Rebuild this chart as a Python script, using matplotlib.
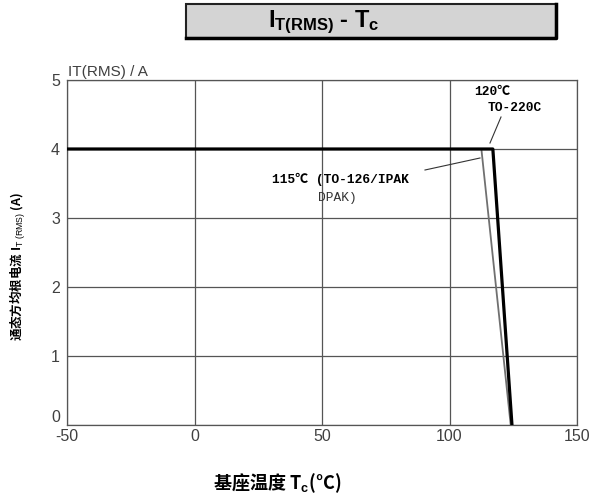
import matplotlib
matplotlib.use("Agg")
import matplotlib.pyplot as plt
from matplotlib.patches import Rectangle
from matplotlib.lines import Line2D

plt.rcParams['font.family'] = ['Liberation Sans', 'Noto Sans CJK SC', 'DejaVu Sans']
plt.rcParams['mathtext.fontset'] = 'custom'
plt.rcParams['mathtext.rm'] = 'Liberation Sans'
plt.rcParams['mathtext.bf'] = 'Liberation Sans:bold'
plt.rcParams['mathtext.it'] = 'Liberation Sans:italic'

# Data
to220_tc = [-50, 117, 124.5]
to220_it = [4, 4, 0]
to126_tc = [-50, 112.5, 124]
to126_it = [4, 4, 0]
x_ticks = [-50, 0, 50, 100, 150]
y_ticks = [0, 1, 2, 3, 4, 5]

fig = plt.figure(figsize=(5.98, 5.00), dpi=100)
W, H = 598, 500
ax = fig.add_axes([67 / W, 1 - 425 / H, (577 - 67) / W, (425 - 80) / H])

ax.plot(to126_tc, to126_it, color='#707070', lw=1.3, zorder=3)
ax.plot(to220_tc, to220_it, color='black', lw=2.3, zorder=4)

ax.set_xlim(-50, 150)
ax.set_ylim(0, 5)
ax.set_xticks(x_ticks)
ax.set_yticks(y_ticks)
ax.grid(True, color='#555555', lw=0.9)
ax.set_axisbelow(True)
for s in ax.spines.values():
    s.set_color('#555555')
    s.set_linewidth(0.9)
ax.tick_params(length=0, labelsize=11.5, colors='#404040')
ax.tick_params(axis='y', pad=5)
ax.tick_params(axis='x', pad=3)
ax.set_xticklabels([str(v) for v in x_ticks])
ax.get_yticklabels()[0].set_va('bottom')

ax.text(0.002, 1.003, 'IT(RMS) / A', transform=ax.transAxes, fontsize=11,
        color='#404040', ha='left', va='bottom')

# annotations
mono = ['Liberation Mono', 'Noto Sans CJK SC']
fig.text(474 / W, 1 - 92 / H, '120℃', family=mono, fontsize=9.3, fontweight='bold',
         ha='left', va='center')
fig.text(488 / W, 1 - 108 / H, 'TO-220C', family=mono, fontsize=9.3, fontweight='bold',
         ha='left', va='center')
fig.add_artist(Line2D([501 / W, 490 / W], [1 - 117 / H, 1 - 143 / H], color='#333333', lw=0.8))
fig.text(272 / W, 1 - 179 / H, '115℃ (TO-126/IPAK', family=mono, fontsize=9.3,
         fontweight='bold', ha='left', va='center')
fig.text(318 / W, 1 - 198 / H, 'DPAK)', family=mono, fontsize=9.3,
         ha='left', va='center', color='#333333')
fig.add_artist(Line2D([425 / W, 480 / W], [1 - 170 / H, 1 - 158 / H], color='#333333', lw=0.8))

# axis labels
fig.text(18 / W, 1 - 266 / H, r'通态方均根电流 I$_{\mathrm{T\ (RMS)}}$ (A)', rotation=90,
         fontsize=9, fontweight='bold', ha='center', va='center',
         family=['Noto Sans CJK SC', 'Liberation Sans'])
fig.text(277 / W, 1 - 483 / H, r'基座温度 T$_{\mathbf{c}}$(°C)', fontsize=13,
         fontweight='bold', ha='center', va='center',
         family=['Noto Sans CJK SC', 'Liberation Sans'])

# title box
fig.add_artist(Rectangle((186 / W, 1 - 38 / H), (556 - 186) / W, 34 / H,
                         transform=fig.transFigure, facecolor='#d4d4d4',
                         edgecolor='#222222', lw=1.5))
fig.add_artist(Line2D([556 / W, 556 / W, 186 / W], [1 - 4 / H, 1 - 38 / H, 1 - 38 / H],
                      color='black', lw=2.5))
fig.text(324 / W, 1 - 22 / H,
         r'$\mathbf{I}_{\mathbf{T(RMS)}}$' + ' - ' + r'$\mathbf{T}_{\mathbf{c}}$',
         fontsize=17, fontweight='bold', ha='center', va='center')

fig.savefig('out.png', dpi=100)
